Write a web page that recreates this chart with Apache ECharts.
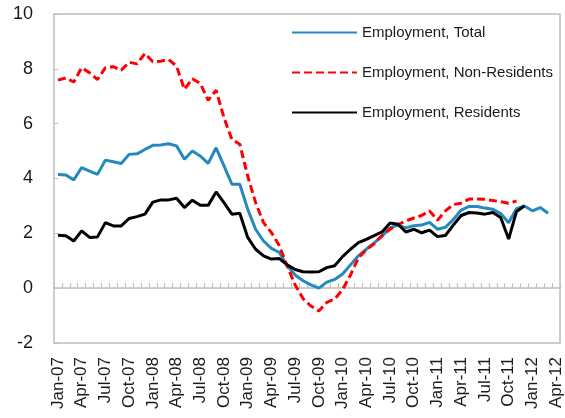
<!DOCTYPE html>
<html>
<head>
<meta charset="utf-8">
<script src="https://cdn.jsdelivr.net/npm/echarts@6/dist/echarts.min.js"></script>
<style>
  html, body { margin: 0; padding: 0; background: #fff; }
  #chart { width: 565px; height: 418px; }
</style>
</head>
<body>
<div id="chart"></div>
<script>
const months = [
  "Jan-07", "Feb-07", "Mar-07", "Apr-07", "May-07", "Jun-07", "Jul-07", "Aug-07", "Sep-07", "Oct-07", "Nov-07", "Dec-07",
  "Jan-08", "Feb-08", "Mar-08", "Apr-08", "May-08", "Jun-08", "Jul-08", "Aug-08", "Sep-08", "Oct-08", "Nov-08", "Dec-08",
  "Jan-09", "Feb-09", "Mar-09", "Apr-09", "May-09", "Jun-09", "Jul-09", "Aug-09", "Sep-09", "Oct-09", "Nov-09", "Dec-09",
  "Jan-10", "Feb-10", "Mar-10", "Apr-10", "May-10", "Jun-10", "Jul-10", "Aug-10", "Sep-10", "Oct-10", "Nov-10", "Dec-10",
  "Jan-11", "Feb-11", "Mar-11", "Apr-11", "May-11", "Jun-11", "Jul-11", "Aug-11", "Sep-11", "Oct-11", "Nov-11", "Dec-11",
  "Jan-12", "Feb-12", "Mar-12", "Apr-12"
];

const total = [
  4.15, 4.13, 3.95, 4.40, 4.27, 4.15, 4.67, 4.61, 4.55, 4.88,
  4.90, 5.06, 5.21, 5.22, 5.27, 5.19, 4.70, 5.00, 4.82, 4.55,
  5.12, 4.46, 3.79, 3.79, 2.88, 2.15, 1.72, 1.45, 1.30, 0.82,
  0.48, 0.27, 0.12, 0.00, 0.22, 0.32, 0.52, 0.85, 1.18, 1.42,
  1.65, 1.90, 2.20, 2.30, 2.20, 2.28, 2.30, 2.40, 2.15, 2.22,
  2.50, 2.85, 2.98, 2.98, 2.92, 2.88, 2.72, 2.39, 2.90, 3.00,
  2.82, 2.94, 2.73, null
];

const nonResidents = [
  7.59, 7.67, 7.52, 8.04, 7.86, 7.61, 8.04, 8.08, 7.95, 8.24,
  8.18, 8.56, 8.26, 8.28, 8.34, 8.10, 7.25, 7.64, 7.47, 6.85,
  7.22, 6.22, 5.43, 5.25, 4.09, 3.12, 2.39, 2.03, 1.55, 0.80,
  0.12, -0.38, -0.65, -0.83, -0.52, -0.40, -0.05, 0.48, 1.10, 1.40,
  1.62, 1.92, 2.15, 2.32, 2.45, 2.56, 2.65, 2.82, 2.48, 2.82,
  3.05, 3.10, 3.25, 3.25, 3.24, 3.20, 3.15, 3.10, 3.18, null,
  null, null, null, null
];

const residents = [
  1.93, 1.91, 1.72, 2.09, 1.85, 1.87, 2.39, 2.27, 2.27, 2.54,
  2.61, 2.70, 3.14, 3.22, 3.22, 3.28, 2.94, 3.21, 3.02, 3.02,
  3.51, 3.12, 2.70, 2.73, 1.85, 1.42, 1.18, 1.06, 1.08, 0.85,
  0.68, 0.60, 0.59, 0.60, 0.75, 0.82, 1.15, 1.42, 1.66, 1.78,
  1.92, 2.05, 2.38, 2.33, 2.05, 2.15, 2.02, 2.12, 1.88, 1.92,
  2.30, 2.65, 2.76, 2.74, 2.70, 2.76, 2.58, 1.79, 2.80, 3.00,
  null, null, null, null
];

const yTicks = { min: -2, max: 10, step: 2 };

const font = "Liberation Sans";
const textColor = "#1a1a1a";
const frameColor = "#bdbdbd";

const chart = echarts.init(document.getElementById("chart"));
const option = {
  animation: false,
  grid: {
    left: 54,
    right: 5,
    top: 14,
    bottom: 75,
    show: true,
    borderColor: frameColor,
    borderWidth: 1.5,
    containLabel: false
  },
  legend: {
    orient: "vertical",
    left: 286,
    top: 20,
    itemWidth: 65,
    itemHeight: 16,
    itemGap: 25,
    itemStyle: { opacity: 0 },
    textStyle: {
      fontFamily: font,
      fontSize: 15,
      color: textColor
    },
    data: ["Employment, Total", "Employment, Non-Residents", "Employment, Residents"]
  },
  xAxis: [
    {
      // zero line with monthly tick marks
      type: "category",
      data: months,
      boundaryGap: true,
      position: "bottom",
      axisLine: {
        onZero: true,
        lineStyle: { color: frameColor, width: 1.5 }
      },
      axisTick: {
        show: true,
        inside: true,
        interval: 0,
        length: 5,
        lineStyle: { color: frameColor, width: 1 }
      },
      axisLabel: { show: false },
      splitLine: { show: false }
    },
    {
      // labels along the bottom
      type: "category",
      data: months,
      boundaryGap: true,
      position: "bottom",
      axisLine: { show: false, onZero: false },
      axisTick: { show: false },
      axisLabel: {
        interval: 2,
        rotate: 90,
        margin: 14,
        fontFamily: font,
        fontSize: 17,
        color: textColor
      },
      splitLine: { show: false }
    }
  ],
  yAxis: {
    type: "value",
    min: yTicks.min,
    max: yTicks.max,
    interval: yTicks.step,
    axisLine: { show: false },
    axisTick: {
      show: true,
      inside: true,
      length: 4,
      lineStyle: { color: frameColor }
    },
    axisLabel: {
      margin: 21,
      fontFamily: font,
      fontSize: 18,
      color: textColor
    },
    splitLine: { show: false }
  },
  series: [
    {
      name: "Employment, Total",
      type: "line",
      xAxisIndex: 0,
      symbol: "none",
      lineStyle: { color: "#2389be", width: 3 },
      itemStyle: { color: "#2389be" },
      data: total
    },
    {
      name: "Employment, Non-Residents",
      type: "line",
      xAxisIndex: 0,
      symbol: "none",
      lineStyle: { color: "#ff0000", width: 3, type: [8, 4] },
      itemStyle: { color: "#ff0000" },
      data: nonResidents
    },
    {
      name: "Employment, Residents",
      type: "line",
      xAxisIndex: 0,
      symbol: "none",
      lineStyle: { color: "#000000", width: 3 },
      itemStyle: { color: "#000000" },
      data: residents
    }
  ]
};
chart.setOption(option);
</script>
</body>
</html>
